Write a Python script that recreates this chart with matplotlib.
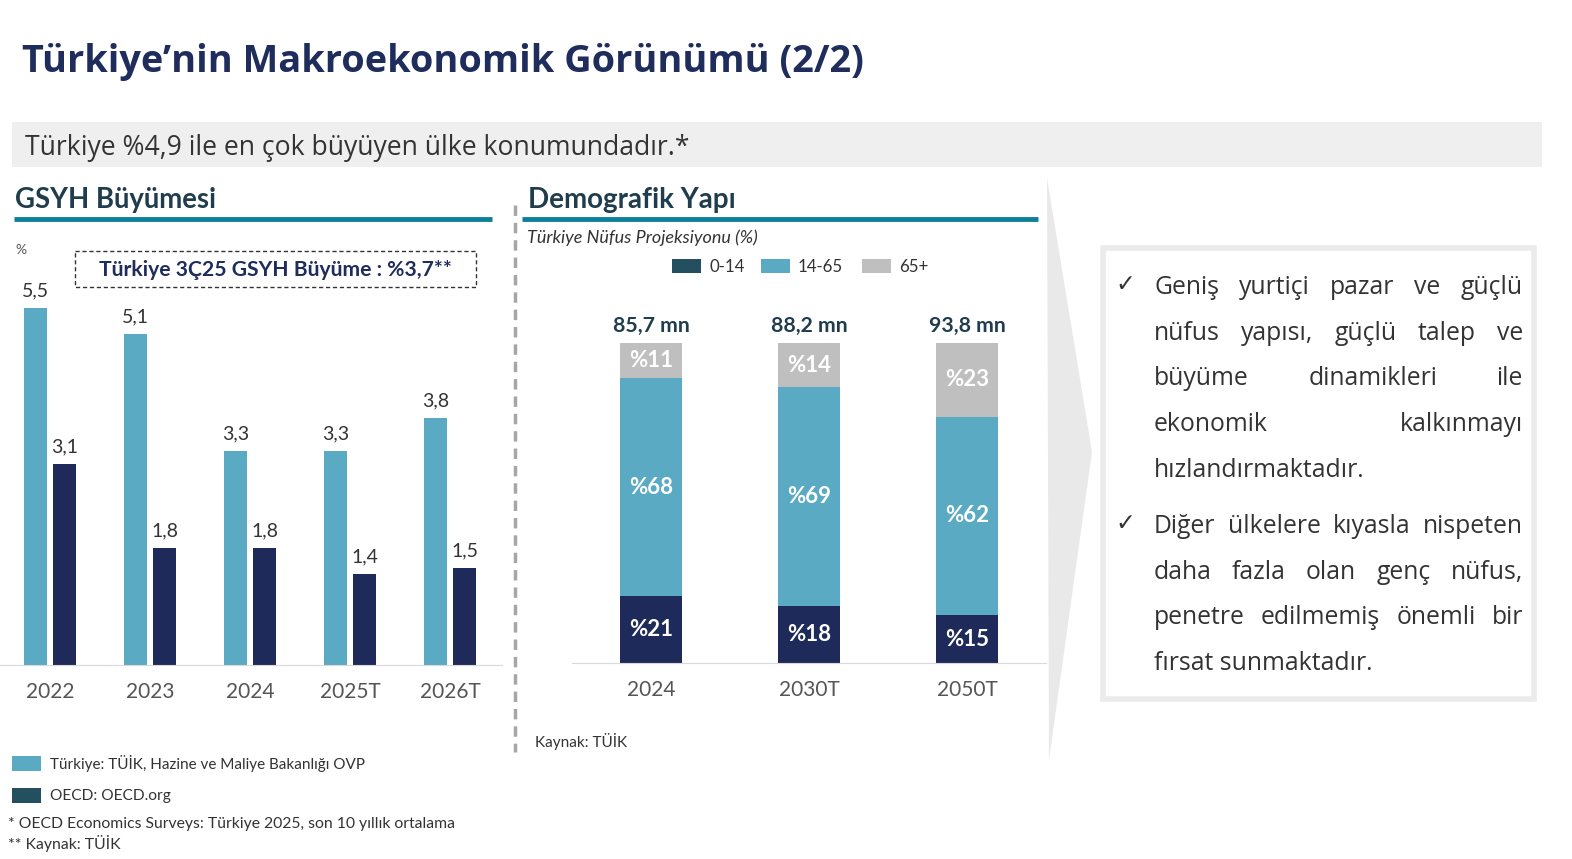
import matplotlib.pyplot as plt
from matplotlib.patches import Rectangle, Polygon
import numpy as np

# GSYH growth data
years_gdp = ['2022', '2023', '2024', '2025T', '2026T']
turkiye_gdp = [5.5, 5.1, 3.3, 3.3, 3.8]
oecd_gdp = [3.1, 1.8, 1.8, 1.4, 1.5]

# population projection data
years_pop = ['2024', '2030T', '2050T']
pop_total = ['85,7 mn', '88,2 mn', '93,8 mn']
age_0_14 = [21, 18, 15]
age_14_65 = [68, 69, 62]
age_65 = [11, 14, 23]
age_groups = ['0-14', '14-65', '65+']

LIGHT = '#5aaac4'
NAVY = '#1e2a5a'
TEAL_DARK = '#234f5e'
GREY = '#bfbfbf'
TITLE_C = '#1f2d5c'
HEAD_C = '#1f3d4d'
LINE_C = '#0e7f9b'
TXT = '#333333'
OPEN = ['Open Sans', 'DejaVu Sans']

plt.rcParams['font.family'] = ['Lato', 'DejaVu Sans']

W, H = 1572, 859
fig = plt.figure(figsize=(W / 100, H / 100), dpi=100)

# background axes in pixel coordinates
bg = fig.add_axes([0, 0, 1, 1])
bg.set_xlim(0, W)
bg.set_ylim(H, 0)
bg.axis('off')


def px_axes(x0, y0, x1, y1):
    # rectangle given in pixels (top-left origin)
    return fig.add_axes([x0 / W, 1 - y1 / H, (x1 - x0) / W, (y1 - y0) / H])


# title and subtitle
bg.text(22, 62, 'Türkiye’nin Makroekonomik Görünümü (2/2)', fontsize=27.3, fontweight='bold',
        color=TITLE_C, va='center', ha='left', family=OPEN)
bg.add_patch(Rectangle((12, 122), 1530, 45, color='#efefef', lw=0))
bg.text(25, 148, 'Türkiye %4,9 ile en çok büyüyen ülke konumundadır.*', fontsize=19.1,
        color=TXT, va='center', ha='left', family=OPEN)

# section headings
bg.text(15, 200, 'GSYH Büyümesi', fontsize=19.8, fontweight='bold', color=HEAD_C, va='center')
bg.plot([14, 492], [219, 219], color=LINE_C, lw=3.5, solid_capstyle='butt')
bg.text(528, 200, 'Demografik Yapı', fontsize=20, fontweight='bold', color=HEAD_C, va='center')
bg.plot([522, 1038], [219, 219], color=LINE_C, lw=3.5, solid_capstyle='butt')
bg.plot([515, 515], [205, 752], color='#a6a6a6', lw=2.5, dashes=(3, 2))

# ---- left chart: GDP growth ----
ax1 = px_axes(0, 275, 502, 665)
ax1.patch.set_alpha(0)
x = np.arange(len(years_gdp))
b1 = ax1.bar(x - 0.145, turkiye_gdp, width=0.225, color=LIGHT)
b2 = ax1.bar(x + 0.145, oecd_gdp, width=0.225, color=NAVY)
for bars, vals in [(b1, turkiye_gdp), (b2, oecd_gdp)]:
    for rect, v in zip(bars, vals):
        ax1.annotate(f'{v:.1f}'.replace('.', ','), (rect.get_x() + rect.get_width() / 2, v),
                     xytext=(0, 6), textcoords='offset points', ha='center', va='bottom',
                     fontsize=14, color=TXT, annotation_clip=False)
ax1.set_xlim(-0.5, 4.52)
ax1.set_ylim(0, 6)
ax1.set_xticks(x, years_gdp)
ax1.tick_params(axis='x', length=0, pad=12, labelsize=15, labelcolor='#555555')
ax1.set_yticks([])
for s in ['top', 'left', 'right']:
    ax1.spines[s].set_visible(False)
ax1.spines['bottom'].set_color('#d9d9d9')

bg.text(15, 250, '%', fontsize=10, color='#555555', va='center')
bg.add_patch(Rectangle((75, 251), 401, 36, fill=False, edgecolor=TXT, lw=1, ls=(0, (3, 2))))
bg.text(275, 270, 'Türkiye 3Ç25 GSYH Büyüme : %3,7**', fontsize=15.2, fontweight='bold',
        color=TITLE_C, ha='center', va='center')

# left legend and notes
bg.add_patch(Rectangle((12, 756), 29, 15, color=LIGHT, lw=0))
bg.text(50, 764, 'Türkiye: TÜİK, Hazine ve Maliye Bakanlığı OVP', fontsize=11, color=TXT, va='center')
bg.add_patch(Rectangle((12, 788), 29, 15, color=TEAL_DARK, lw=0))
bg.text(50, 796, 'OECD: OECD.org', fontsize=11.2, color=TXT, va='center')
bg.text(8, 824, '* OECD Economics Surveys: Türkiye 2025, son 10 yıllık ortalama', fontsize=11.3,
        color=TXT, va='center')
bg.text(8, 843, '** Kaynak: TÜİK', fontsize=11.3, color=TXT, va='center')

# ---- right chart: population ----
bg.text(527, 238, 'Türkiye Nüfus Projeksiyonu (%)', fontsize=13, fontstyle='italic', color=TXT, va='center')
leg_cols = [TEAL_DARK, LIGHT, GREY]
leg_x = [672, 761, 862]
for lx, c, lab in zip(leg_x, leg_cols, age_groups):
    bg.add_patch(Rectangle((lx, 259), 29, 14, color=c, lw=0))
    bg.text(lx + 37, 267, lab, fontsize=12.2, color=TXT, va='center')

ax2 = px_axes(572, 343, 1046, 663)
ax2.patch.set_alpha(0)
xp = np.arange(len(years_pop))
shares = np.array([age_0_14, age_14_65, age_65], dtype=float)
scaled = shares / shares.sum(axis=0) * 100
bottom = np.zeros(len(years_pop))
for i, c in enumerate([NAVY, LIGHT, GREY]):
    ax2.bar(xp, scaled[i], width=0.39, bottom=bottom, color=c)
    for j in range(len(years_pop)):
        ax2.text(xp[j], bottom[j] + scaled[i][j] / 2, f'%{int(shares[i][j])}', ha='center',
                 va='center', color='white', fontsize=16, fontweight='bold')
    bottom += scaled[i]
for j in range(len(years_pop)):
    ax2.annotate(pop_total[j], (xp[j], bottom[j]), xytext=(0, 5), textcoords='offset points',
                 ha='center', va='bottom', fontsize=15.3, fontweight='bold', color=HEAD_C,
                 annotation_clip=False)
ax2.set_xlim(-0.5, 2.5)
ax2.set_ylim(0, 100)
ax2.set_xticks(xp, years_pop)
ax2.tick_params(axis='x', length=0, pad=12, labelsize=15, labelcolor='#555555')
ax2.set_yticks([])
for s in ['top', 'left', 'right']:
    ax2.spines[s].set_visible(False)
ax2.spines['bottom'].set_color('#d9d9d9')
bg.text(535, 741, 'Kaynak: TÜİK', fontsize=11, color=TXT, va='center')

# ---- right panel ----
bg.add_patch(Polygon([(1047, 178), (1092, 452), (1049, 760)], closed=True, color='#e9e9e9', lw=0))
bg.add_patch(Rectangle((1103, 248), 431, 451, facecolor='white', edgecolor='#ebebeb', lw=4))

lines = [
    ('Geniş yurtiçi pazar ve güçlü', True),
    ('nüfus yapısı, güçlü talep ve', True),
    ('büyüme dinamikleri ile', True),
    ('ekonomik kalkınmayı', True),
    ('hızlandırmaktadır.', False),
    ('Diğer ülkelere kıyasla nispeten', True),
    ('daha fazla olan genç nüfus,', True),
    ('penetre edilmemiş önemli bir', True),
    ('fırsat sunmaktadır.', False),
]
baselines = [294 + 45.7 * i for i in range(5)] + [533 + 45.6 * i for i in range(4)]
x_left, x_right = 1154, 1523
body_size = 17.8
fig.canvas.draw()
renderer = fig.canvas.get_renderer()
for (line, justify), yb in zip(lines, baselines):
    words = line.split(' ')
    if not justify:
        bg.text(x_left, yb, line, fontsize=body_size, color=TXT, va='baseline', family=OPEN)
        continue
    objs = [bg.text(0, yb, w, fontsize=body_size, color=TXT, va='baseline', family=OPEN)
            for w in words]
    widths = [o.get_window_extent(renderer).width for o in objs]
    gap = (x_right - x_left - sum(widths)) / (len(words) - 1)
    pos = x_left
    for o, wd in zip(objs, widths):
        o.set_x(pos)
        pos += wd + gap

for yc in [284, 523]:
    bg.text(1125, yc, '✓', fontsize=17, color=TXT, ha='center', va='center',
            family=['DejaVu Sans'])

fig.savefig('out.png', dpi=100)
